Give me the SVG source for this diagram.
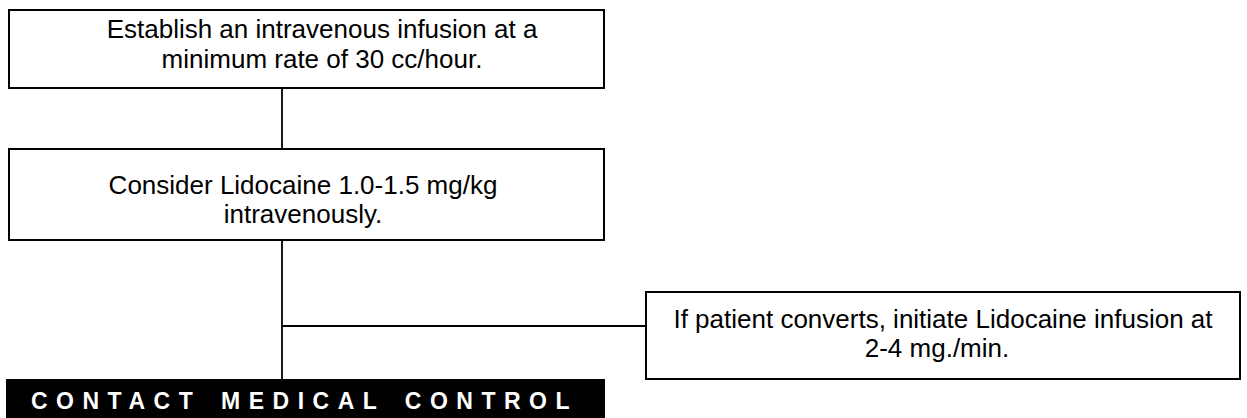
<svg xmlns="http://www.w3.org/2000/svg" width="1247" height="418" viewBox="0 0 1247 418">
<style>
.box{fill:#fff;stroke:#000;stroke-width:2}
.t{font-family:"Liberation Sans",Arial,sans-serif;font-size:26px;fill:#000;text-anchor:middle}
.conn{stroke:#000;stroke-width:1.8;fill:none}
.bar{fill:#000}
.bt{font-family:"Liberation Sans",Arial,sans-serif;font-size:23px;font-weight:bold;fill:#fff;letter-spacing:8.5px;word-spacing:5px}
</style>
<rect width="1247" height="418" fill="#fff"/>
<g id="connectors">
<line class="conn" x1="282" y1="88" x2="282" y2="149"/>
<line class="conn" x1="282" y1="240" x2="282" y2="379"/>
<line class="conn" x1="282" y1="326" x2="646" y2="326"/>
</g>
<g id="node-iv">
<rect class="box" x="9" y="10" width="595" height="78"/>
<text class="t" x="322" y="38">Establish an intravenous infusion at a</text>
<text class="t" x="322" y="68">minimum rate of 30 cc/hour.</text>
</g>
<g id="node-lidocaine">
<rect class="box" x="9" y="149" width="595" height="91"/>
<text class="t" x="303" y="194">Consider Lidocaine 1.0-1.5 mg/kg</text>
<text class="t" x="303" y="223">intravenously.</text>
</g>
<g id="node-infusion">
<rect class="box" x="646" y="292" width="594" height="87"/>
<text class="t" x="943" y="328">If patient converts, initiate Lidocaine infusion at</text>
<text class="t" x="937" y="357">2-4 mg./min.</text>
</g>
<g id="node-contact">
<rect class="bar" x="6" y="379" width="599" height="40"/>
<text class="bt" x="31" y="409">CONTACT MEDICAL CONTROL</text>
</g>
</svg>
